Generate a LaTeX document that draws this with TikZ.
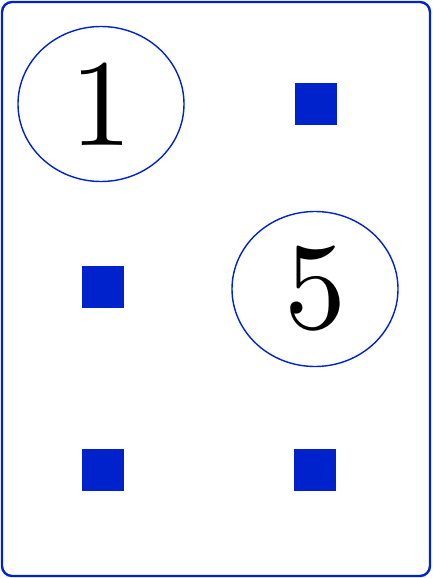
\documentclass[tikz,border=0pt]{standalone}
\usepackage{fontspec}
\newfontfamily\pipfont{lmroman10-regular.otf}
\usepackage{tikz}
\usetikzlibrary{positioning,shapes.geometric}

\definecolor{cardblue}{RGB}{0,34,204}
\tikzset{
  pip/.style={ellipse, draw=cardblue, line width=1.4pt, minimum width=166pt, minimum height=155pt, inner sep=0pt, font=\pipfont\fontsize{124}{124}\selectfont},
  dot/.style={rectangle, fill=cardblue, minimum size=42pt, inner sep=0pt}
}

\begin{document}
\begin{tikzpicture}[x=1pt,y=-1pt]
  \useasboundingbox (0,0) rectangle (432,578);
  % card frame
  \draw[cardblue, line width=2.4pt, rounded corners=10pt] (2,2) rectangle (430,576);

  % Define nodes
  \node[pip] (one) at (101,104) {1};
  \node[dot] (a) at (316,104) {};
  \node[dot] (b) at (103,287) {};
  \node[pip] (five) at (315,289) {5};
  \node[dot] (c) at (103,470) {};
  \node[dot] (d) at (315,470) {};
\end{tikzpicture}
\end{document}
